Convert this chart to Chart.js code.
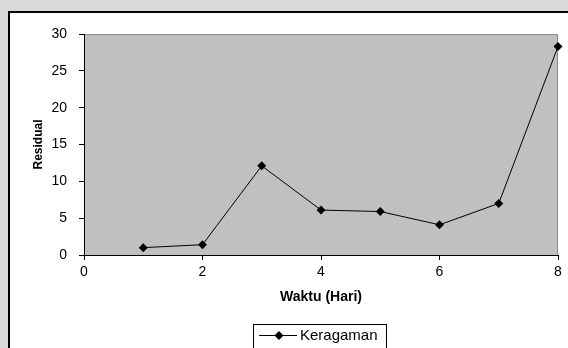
<!DOCTYPE html>
<html>
<head>
<meta charset="utf-8">
<script src="https://cdn.jsdelivr.net/npm/chart.js@4"></script>
<style>
  html, body { margin: 0; padding: 0; }
  body { width: 568px; height: 348px; background: #d9d9d9; position: relative; overflow: hidden; }
  #frame { position: absolute; left: 8px; top: 11px; width: 620px; height: 400px; background: #fff; border: 2px solid #000; }
  #chart { position: absolute; left: 0; top: 0; }
</style>
</head>
<body>
<div id="frame"></div>
<canvas id="chart" width="568" height="348"></canvas>
<script>
const days = [1, 2, 3, 4, 5, 6, 7, 8]
const residual = [1.0, 1.4, 12.1, 6.1, 5.9, 4.1, 7.0, 28.3]
const seriesName = "Keragaman"
const xTitle = "Waktu (Hari)"
const yTitle = "Residual"

const font = "'Liberation Sans', Arial, sans-serif"

// grey plot area with a thin border on top / right
const plotBg = {
  id: 'plotBg',
  beforeDraw(chart) {
    const { ctx, chartArea: a } = chart
    ctx.save()
    ctx.fillStyle = '#c0c0c0'
    ctx.fillRect(a.left, a.top, a.right - a.left, a.bottom - a.top)
    ctx.strokeStyle = '#8c8c8c'
    ctx.lineWidth = 1
    ctx.beginPath()
    ctx.moveTo(a.left, a.top + 0.5)
    ctx.lineTo(a.right - 0.5, a.top + 0.5)
    ctx.lineTo(a.right - 0.5, a.bottom)
    ctx.stroke()
    ctx.restore()
  }
}

// boxed legend under the axis title: line + diamond + name
const boxLegend = {
  id: 'boxLegend',
  afterDraw(chart) {
    const ctx = chart.ctx
    ctx.save()
    ctx.fillStyle = '#fff'
    ctx.fillRect(253, 324, 133, 40)
    ctx.strokeStyle = '#000'
    ctx.lineWidth = 1
    ctx.strokeRect(253.5, 324.5, 133, 40)
    ctx.beginPath()
    ctx.moveTo(259, 335.5)
    ctx.lineTo(297, 335.5)
    ctx.stroke()
    ctx.fillStyle = '#000'
    ctx.beginPath()
    ctx.moveTo(279, 331)
    ctx.lineTo(283.5, 335.5)
    ctx.lineTo(279, 340)
    ctx.lineTo(274.5, 335.5)
    ctx.closePath()
    ctx.fill()
    ctx.font = '15px ' + font
    ctx.textBaseline = 'middle'
    ctx.fillText(seriesName, 300, 336)
    ctx.restore()
  }
}

new Chart(document.getElementById('chart'), {
  type: 'scatter',
  data: {
    datasets: [{
      label: seriesName,
      data: days.map((d, i) => ({ x: d, y: residual[i] })),
      showLine: true,
      borderColor: '#000',
      borderWidth: 1,
      backgroundColor: '#000',
      pointStyle: 'rectRot',
      pointRadius: 4.5,
      pointBorderWidth: 0,
      clip: false
    }]
  },
  options: {
    responsive: false,
    animation: false,
    devicePixelRatio: 1,
    layout: { padding: { left: 10, right: 10, top: 34, bottom: 33 } },
    plugins: {
      legend: { display: false },
      tooltip: { enabled: false }
    },
    scales: {
      x: {
        type: 'linear',
        min: 0,
        max: 8,
        afterFit: (s) => { s.height = 60 },
        border: { color: '#000', width: 1 },
        grid: { drawOnChartArea: false, drawTicks: true, tickLength: 5, color: '#000' },
        ticks: { stepSize: 2, padding: 4, color: '#000', font: { family: font, size: 14 } },
        title: { display: true, text: xTitle, color: '#000', padding: { top: 0, bottom: 9 }, font: { family: font, size: 14, weight: 'bold' } }
      },
      y: {
        min: 0,
        max: 30,
        afterFit: (s) => { s.width = 74 },
        border: { color: '#000', width: 1 },
        grid: { drawOnChartArea: false, drawTicks: true, tickLength: 5, color: '#000' },
        ticks: { stepSize: 5, padding: 12, color: '#000', font: { family: font, size: 14 } },
        title: { display: true, text: yTitle, color: '#000', padding: { top: 21, bottom: 0 }, font: { family: font, size: 12, weight: 'bold' } }
      }
    }
  },
  plugins: [plotBg, boxLegend]
});
</script>
</body>
</html>
